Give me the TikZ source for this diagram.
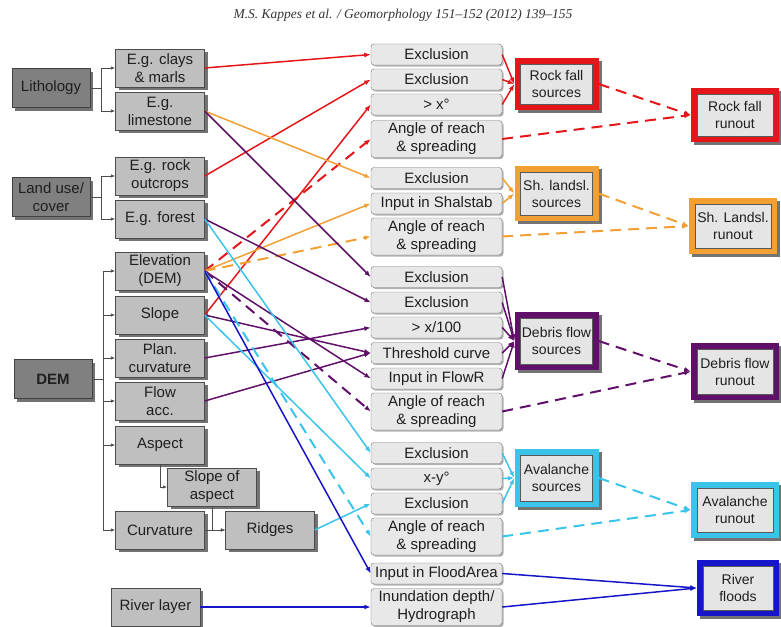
\documentclass[tikz,border=0pt]{standalone}
\usepackage{fontspec}
\setmainfont{Liberation Sans}
\newfontfamily\hdrfont{Liberation Serif}
\usetikzlibrary{arrows.meta,shadows}

\definecolor{rfred}{RGB}{228,22,26}
\definecolor{slorange}{RGB}{242,160,52}
\definecolor{dfpurple}{RGB}{96,16,104}
\definecolor{avcyan}{RGB}{58,196,236}
\definecolor{rvblue}{RGB}{22,22,200}

\begin{document}
\begin{tikzpicture}[x=1pt,y=-1pt,
  every node/.style={font=\fontsize{15}{18}\selectfont, text=black!88, align=center, inner sep=1pt},
  shade3/.style={drop shadow={shadow xshift=3pt,shadow yshift=-3pt,fill=black!55,opacity=1}},
  grpbox/.style={draw=black!75, fill=black!50, minimum width=78pt, minimum height=39pt, shade3},
  itembox/.style={draw=black!70, fill=black!25, minimum width=89pt, minimum height=38pt, shade3},
  stagebox/.style={draw=black!55, fill=black!9, rounded corners=3pt, minimum width=131pt, minimum height=21pt,
    drop shadow={shadow xshift=1.5pt,shadow yshift=-1.5pt,fill=black!30,opacity=1}},
  stagetwo/.style={stagebox, minimum height=37pt},
  framed/.style={fill=#1, shade3, font=\fontsize{14}{17}\selectfont,
    path picture={\filldraw[fill=black!10, draw=black!65, line width=0.6pt]
      ([shift={(6pt,-6pt)}]path picture bounding box.north west) rectangle
      ([shift={(-6pt,6pt)}]path picture bounding box.south east);}},
  bk/.style={draw=black!70, line width=0.8pt, -{Latex[length=4.5pt,width=3.5pt]}},
  conn/.style={line width=1.5pt, -{Latex[length=6.5pt,width=5pt]}},
  dashline/.style={line width=2pt, dash pattern=on 11pt off 7pt},
  rf/.style={conn, draw=rfred},
  sl/.style={conn, draw=slorange},
  df/.style={conn, draw=dfpurple},
  av/.style={conn, draw=avcyan},
  rv/.style={conn, draw=rvblue}
]
\useasboundingbox (0,0) rectangle (781,626);

% running head
\node[font=\hdrfont\itshape\fontsize{13.5}{15}\selectfont, text=black!80] (head) at (403,15)
  {M.S. Kappes et al. / Geomorphology 151–152 (2012) 139–155};

% input data layers
\node[grpbox] (litho) at (51,88) {Lithology};
\node[itembox] (clays) at (160,68) {E.g. clays\\\& marls};
\node[itembox] (lime) at (160,111) {E.g.\\limestone};
\node[grpbox] (land) at (51,197) {Land use/\\cover};
\node[itembox] (outcrop) at (160,176) {E.g. rock\\outcrops};
\node[itembox] (forest) at (160,219) {E.g. forest};
\node[grpbox, font=\bfseries\fontsize{15}{18}\selectfont] (dem) at (53,379) {DEM};
\node[itembox] (elev) at (160,271) {Elevation\\(DEM)};
\node[itembox] (slope) at (160,315) {Slope};
\node[itembox] (plan) at (160,358) {Plan.\\curvature};
\node[itembox] (flow) at (160,401) {Flow\\acc.};
\node[itembox] (aspect) at (160,445) {Aspect};
\node[itembox] (slopeasp) at (212,487) {Slope of\\aspect};
\node[itembox] (curv) at (160,530) {Curvature};
\node[itembox] (ridges) at (270,530) {Ridges};
\node[itembox] (river) at (155.5,607) {River layer};

% derivation brackets
\draw[bk] (litho.east) -- ++(11,0) |- (clays.west);
\draw[bk] (litho.east) -- ++(11,0) |- (lime.west);
\draw[bk] (land.east) -- ++(11,0) |- (outcrop.west);
\draw[bk] (land.east) -- ++(11,0) |- (forest.west);
\foreach \t in {elev,slope,plan,flow,aspect,curv}
  \draw[bk] (dem.east) -- ++(11,0) |- (\t.west);
\draw[bk] (aspect.south) |- (slopeasp.west);
\draw[bk] (curv.east) -- (ridges.west);
\draw[bk] (slopeasp.south) |- (ridges.west);

% processing steps
\node[stagebox] (ex1) at (436.5,54.5) {Exclusion};
\node[stagebox] (ex2) at (436.5,79.5) {Exclusion};
\node[stagebox] (xdeg) at (436.5,104.5) {> x°};
\node[stagetwo] (aorrf) at (436.5,139) {Angle of reach\\\& spreading};
\node[stagebox] (exsl) at (436.5,178) {Exclusion};
\node[stagebox] (shal) at (436.5,203.5) {Input in Shalstab};
\node[stagetwo] (aorsl) at (436.5,236.5) {Angle of reach\\\& spreading};
\node[stagebox] (exdf1) at (436.5,277) {Exclusion};
\node[stagebox] (exdf2) at (436.5,302.5) {Exclusion};
\node[stagebox] (xdf) at (436.5,327.5) {> x/100};
\node[stagebox] (thr) at (436.5,353) {Threshold curve};
\node[stagebox] (flowr) at (436.5,378.5) {Input in FlowR};
\node[stagetwo] (aordf) at (436.5,411.5) {Angle of reach\\\& spreading};
\node[stagebox] (exav1) at (436.5,453) {Exclusion};
\node[stagebox] (xyav) at (436.5,478.5) {x-y°};
\node[stagebox] (exav2) at (436.5,503.5) {Exclusion};
\node[stagetwo] (aorav) at (436.5,536.5) {Angle of reach\\\& spreading};
\node[stagebox] (flood) at (436.5,573.5) {Input in FloodArea};
\node[stagetwo] (inund) at (436.5,607) {Inundation depth/\\Hydrograph};

% source areas (outer size = coloured frame)
\node[framed=rfred, minimum width=84pt, minimum height=52pt] (rfsrc) at (556.5,84) {Rock fall\\sources};
\node[framed=slorange, minimum width=84pt, minimum height=55pt] (slsrc) at (556.5,193.5) {Sh. landsl.\\sources};
\node[framed=dfpurple, minimum width=84pt, minimum height=58pt] (dfsrc) at (556.5,341) {Debris flow\\sources};
\node[framed=avcyan, minimum width=84pt, minimum height=58pt] (avsrc) at (556.5,478) {Avalanche\\sources};

% runout areas
\node[framed=rfred, minimum width=88pt, minimum height=54pt] (rfrun) at (735,115) {Rock fall\\runout};
\node[framed=slorange, minimum width=88pt, minimum height=56pt] (slrun) at (733,226) {Sh. Landsl.\\runout};
\node[framed=dfpurple, minimum width=88pt, minimum height=57pt] (dfrun) at (735,371.5) {Debris flow\\runout};
\node[framed=avcyan, minimum width=88pt, minimum height=56pt] (avrun) at (735,510) {Avalanche\\runout};
\node[framed=rvblue, minimum width=82pt, minimum height=56pt] (rvflood) at (738,588) {River\\floods};

% rock fall
\draw[rf] (clays.east) -- (ex1.west);
\draw[rf] (outcrop.east) -- (ex2.west);
\draw[rf] (slope.east) -- (xdeg.west);
\draw[rf, dashline] (elev.east) -- (aorrf.west);
\foreach \s in {ex1,ex2,xdeg} \draw[rf] (\s.east) -- (rfsrc.west);
\draw[rf, dashline] (rfsrc.east) -- (rfrun.west);
\draw[rf, dashline] (aorrf.east) -- (rfrun.west);

% shallow landslides
\draw[sl] (lime.east) -- (exsl.west);
\draw[sl] (elev.east) -- (shal.west);
\draw[sl, dashline] (elev.east) -- (aorsl.west);
\foreach \s in {exsl,shal} \draw[sl] (\s.east) -- (slsrc.west);
\draw[sl, dashline] (slsrc.east) -- (slrun.west);
\draw[sl, dashline] (aorsl.east) -- (slrun.west);

% debris flows
\draw[df] (lime.east) -- (exdf1.west);
\draw[df] (forest.east) -- (exdf2.west);
\draw[df] (plan.east) -- (xdf.west);
\draw[df] (slope.east) -- (thr.west);
\draw[df] (flow.east) -- (thr.west);
\draw[df] (elev.east) -- (flowr.west);
\draw[df, dashline] (elev.east) -- (aordf.west);
\foreach \s in {exdf1,exdf2,xdf,thr,flowr} \draw[df] (\s.east) -- (dfsrc.west);
\draw[df, dashline] (dfsrc.east) -- (dfrun.west);
\draw[df, dashline] (aordf.east) -- (dfrun.west);

% snow avalanches
\draw[av] (forest.east) -- (exav1.west);
\draw[av] (slope.east) -- (xyav.west);
\draw[av] (ridges.east) -- (exav2.west);
\draw[av, dashline] (elev.east) -- (aorav.west);
\foreach \s in {exav1,xyav,exav2} \draw[av] (\s.east) -- (avsrc.west);
\draw[av, dashline] (avsrc.east) -- (avrun.west);
\draw[av, dashline] (aorav.east) -- (avrun.west);

% river floods
\draw[rv] (elev.east) -- (flood.west);
\draw[rv] (river.east) -- (inund.west);
\draw[rv] (flood.east) -- (rvflood.west);
\draw[rv] (inund.east) -- (rvflood.west);
\end{tikzpicture}
\end{document}
